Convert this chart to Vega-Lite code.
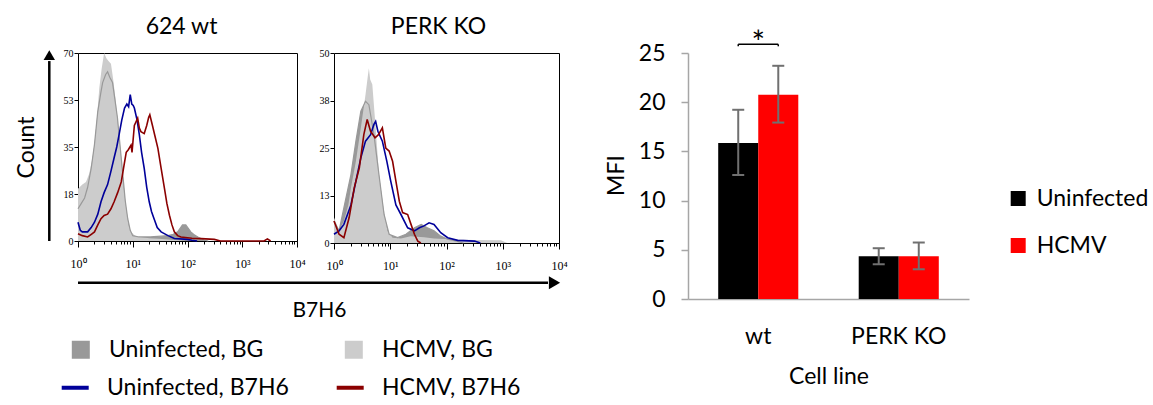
{
"$schema":"https://vega.github.io/schema/vega-lite/v6.json",
"padding":{"left":14,"top":15,"right":5,"bottom":5},
"bounds":"flush",
"spacing":37,
"resolve":{"scale":{"color":"independent","fill":"independent","stroke":"independent"}},
"config":{"view":{"stroke":null},"axis":{"grid":false,"labelColor":"black","titleColor":"black"},"font":"Lato","title":{"font":"Lato","fontWeight":"normal","color":"black"}},
"datasets":{
"hist":[
{"p":"wt","s":"HCMV, BG","x":1,"c":19.5},{"p":"wt","s":"HCMV, BG","x":1.2,"c":21},{"p":"wt","s":"HCMV, BG","x":1.4,"c":22},{"p":"wt","s":"HCMV, BG","x":1.6,"c":25},{"p":"wt","s":"HCMV, BG","x":1.8,"c":30},{"p":"wt","s":"HCMV, BG","x":2.0,"c":36},{"p":"wt","s":"HCMV, BG","x":2.2,"c":45},{"p":"wt","s":"HCMV, BG","x":2.45,"c":57},{"p":"wt","s":"HCMV, BG","x":2.7,"c":64},{"p":"wt","s":"HCMV, BG","x":3.0,"c":70},{"p":"wt","s":"HCMV, BG","x":3.3,"c":68},{"p":"wt","s":"HCMV, BG","x":3.6,"c":67},{"p":"wt","s":"HCMV, BG","x":4.0,"c":66},{"p":"wt","s":"HCMV, BG","x":4.4,"c":60},{"p":"wt","s":"HCMV, BG","x":4.9,"c":52},{"p":"wt","s":"HCMV, BG","x":5.5,"c":41},{"p":"wt","s":"HCMV, BG","x":6.2,"c":30},{"p":"wt","s":"HCMV, BG","x":6.8,"c":20},{"p":"wt","s":"HCMV, BG","x":7.6,"c":12},{"p":"wt","s":"HCMV, BG","x":8.4,"c":6},{"p":"wt","s":"HCMV, BG","x":9.3,"c":3.4},{"p":"wt","s":"HCMV, BG","x":11,"c":2},{"p":"wt","s":"HCMV, BG","x":14,"c":1.5},{"p":"wt","s":"HCMV, BG","x":20,"c":1},{"p":"wt","s":"HCMV, BG","x":30,"c":0.8},{"p":"wt","s":"HCMV, BG","x":50,"c":0.5},{"p":"wt","s":"HCMV, BG","x":70,"c":0.3},{"p":"wt","s":"HCMV, BG","x":90,"c":0},
{"p":"wt","s":"Uninfected, BG","x":1,"c":12},{"p":"wt","s":"Uninfected, BG","x":1.15,"c":14},{"p":"wt","s":"Uninfected, BG","x":1.32,"c":16},{"p":"wt","s":"Uninfected, BG","x":1.5,"c":20},{"p":"wt","s":"Uninfected, BG","x":1.74,"c":27},{"p":"wt","s":"Uninfected, BG","x":2.0,"c":36},{"p":"wt","s":"Uninfected, BG","x":2.29,"c":48},{"p":"wt","s":"Uninfected, BG","x":2.6,"c":55},{"p":"wt","s":"Uninfected, BG","x":2.82,"c":59},{"p":"wt","s":"Uninfected, BG","x":3.2,"c":62},{"p":"wt","s":"Uninfected, BG","x":3.47,"c":63},{"p":"wt","s":"Uninfected, BG","x":3.8,"c":61},{"p":"wt","s":"Uninfected, BG","x":4.27,"c":59},{"p":"wt","s":"Uninfected, BG","x":4.7,"c":53},{"p":"wt","s":"Uninfected, BG","x":5.25,"c":46},{"p":"wt","s":"Uninfected, BG","x":5.9,"c":35},{"p":"wt","s":"Uninfected, BG","x":6.6,"c":24.5},{"p":"wt","s":"Uninfected, BG","x":7.3,"c":15},{"p":"wt","s":"Uninfected, BG","x":8.1,"c":8.3},{"p":"wt","s":"Uninfected, BG","x":9,"c":4},{"p":"wt","s":"Uninfected, BG","x":10,"c":2},{"p":"wt","s":"Uninfected, BG","x":13,"c":1.5},{"p":"wt","s":"Uninfected, BG","x":21,"c":1.5},{"p":"wt","s":"Uninfected, BG","x":33,"c":1.8},{"p":"wt","s":"Uninfected, BG","x":44,"c":2},{"p":"wt","s":"Uninfected, BG","x":55,"c":2.5},{"p":"wt","s":"Uninfected, BG","x":66,"c":3.4},{"p":"wt","s":"Uninfected, BG","x":75,"c":5},{"p":"wt","s":"Uninfected, BG","x":81,"c":6},{"p":"wt","s":"Uninfected, BG","x":93,"c":6},{"p":"wt","s":"Uninfected, BG","x":105,"c":4.5},{"p":"wt","s":"Uninfected, BG","x":115,"c":3.4},{"p":"wt","s":"Uninfected, BG","x":135,"c":2.2},{"p":"wt","s":"Uninfected, BG","x":155,"c":1.5},{"p":"wt","s":"Uninfected, BG","x":180,"c":0.8},{"p":"wt","s":"Uninfected, BG","x":204,"c":0.3},{"p":"wt","s":"Uninfected, BG","x":240,"c":0},
{"p":"wt","s":"Uninfected, B7H6","x":1,"c":7},{"p":"wt","s":"Uninfected, B7H6","x":1.1,"c":4},{"p":"wt","s":"Uninfected, B7H6","x":1.2,"c":3.4},{"p":"wt","s":"Uninfected, B7H6","x":1.5,"c":3.4},{"p":"wt","s":"Uninfected, B7H6","x":1.74,"c":5},{"p":"wt","s":"Uninfected, B7H6","x":2.0,"c":7},{"p":"wt","s":"Uninfected, B7H6","x":2.3,"c":10},{"p":"wt","s":"Uninfected, B7H6","x":2.63,"c":14.6},{"p":"wt","s":"Uninfected, B7H6","x":3.0,"c":18},{"p":"wt","s":"Uninfected, B7H6","x":3.47,"c":21},{"p":"wt","s":"Uninfected, B7H6","x":4.0,"c":26},{"p":"wt","s":"Uninfected, B7H6","x":4.57,"c":31},{"p":"wt","s":"Uninfected, B7H6","x":5.1,"c":35},{"p":"wt","s":"Uninfected, B7H6","x":5.62,"c":39.5},{"p":"wt","s":"Uninfected, B7H6","x":6.3,"c":45},{"p":"wt","s":"Uninfected, B7H6","x":7.08,"c":49.5},{"p":"wt","s":"Uninfected, B7H6","x":7.8,"c":51},{"p":"wt","s":"Uninfected, B7H6","x":8.4,"c":50},{"p":"wt","s":"Uninfected, B7H6","x":9.0,"c":54.5},{"p":"wt","s":"Uninfected, B7H6","x":9.6,"c":51},{"p":"wt","s":"Uninfected, B7H6","x":10.2,"c":50.5},{"p":"wt","s":"Uninfected, B7H6","x":10.7,"c":49.5},{"p":"wt","s":"Uninfected, B7H6","x":12,"c":45},{"p":"wt","s":"Uninfected, B7H6","x":13.2,"c":39.5},{"p":"wt","s":"Uninfected, B7H6","x":14.5,"c":33},{"p":"wt","s":"Uninfected, B7H6","x":16.2,"c":27},{"p":"wt","s":"Uninfected, B7H6","x":18,"c":20},{"p":"wt","s":"Uninfected, B7H6","x":20,"c":14.6},{"p":"wt","s":"Uninfected, B7H6","x":22,"c":11},{"p":"wt","s":"Uninfected, B7H6","x":24.5,"c":8.3},{"p":"wt","s":"Uninfected, B7H6","x":28,"c":5},{"p":"wt","s":"Uninfected, B7H6","x":33,"c":3.4},{"p":"wt","s":"Uninfected, B7H6","x":44,"c":2},{"p":"wt","s":"Uninfected, B7H6","x":57.5,"c":0.9},{"p":"wt","s":"Uninfected, B7H6","x":100,"c":0.6},{"p":"wt","s":"Uninfected, B7H6","x":120,"c":0.3},{"p":"wt","s":"Uninfected, B7H6","x":150,"c":0},
{"p":"wt","s":"HCMV, B7H6","x":1,"c":2.7},{"p":"wt","s":"HCMV, B7H6","x":1.2,"c":2},{"p":"wt","s":"HCMV, B7H6","x":1.5,"c":1.5},{"p":"wt","s":"HCMV, B7H6","x":1.75,"c":2.5},{"p":"wt","s":"HCMV, B7H6","x":2.0,"c":3.4},{"p":"wt","s":"HCMV, B7H6","x":2.3,"c":6},{"p":"wt","s":"HCMV, B7H6","x":2.63,"c":8.3},{"p":"wt","s":"HCMV, B7H6","x":3.0,"c":9.5},{"p":"wt","s":"HCMV, B7H6","x":3.47,"c":10},{"p":"wt","s":"HCMV, B7H6","x":4.0,"c":12},{"p":"wt","s":"HCMV, B7H6","x":4.57,"c":14.6},{"p":"wt","s":"HCMV, B7H6","x":5.3,"c":18},{"p":"wt","s":"HCMV, B7H6","x":6.17,"c":22},{"p":"wt","s":"HCMV, B7H6","x":6.9,"c":28},{"p":"wt","s":"HCMV, B7H6","x":7.6,"c":33},{"p":"wt","s":"HCMV, B7H6","x":8.3,"c":34},{"p":"wt","s":"HCMV, B7H6","x":9.3,"c":35.7},{"p":"wt","s":"HCMV, B7H6","x":9.7,"c":33},{"p":"wt","s":"HCMV, B7H6","x":10.7,"c":43},{"p":"wt","s":"HCMV, B7H6","x":12.3,"c":45.7},{"p":"wt","s":"HCMV, B7H6","x":13.2,"c":42},{"p":"wt","s":"HCMV, B7H6","x":14.1,"c":40.7},{"p":"wt","s":"HCMV, B7H6","x":16.2,"c":40},{"p":"wt","s":"HCMV, B7H6","x":18,"c":43},{"p":"wt","s":"HCMV, B7H6","x":19.5,"c":46},{"p":"wt","s":"HCMV, B7H6","x":20.5,"c":47},{"p":"wt","s":"HCMV, B7H6","x":22.9,"c":43},{"p":"wt","s":"HCMV, B7H6","x":25.5,"c":39},{"p":"wt","s":"HCMV, B7H6","x":28.8,"c":34.5},{"p":"wt","s":"HCMV, B7H6","x":33,"c":27},{"p":"wt","s":"HCMV, B7H6","x":38,"c":19.5},{"p":"wt","s":"HCMV, B7H6","x":42,"c":14},{"p":"wt","s":"HCMV, B7H6","x":46.8,"c":9.6},{"p":"wt","s":"HCMV, B7H6","x":52,"c":6},{"p":"wt","s":"HCMV, B7H6","x":57.5,"c":3.4},{"p":"wt","s":"HCMV, B7H6","x":66,"c":2},{"p":"wt","s":"HCMV, B7H6","x":76,"c":1.5},{"p":"wt","s":"HCMV, B7H6","x":120,"c":1},{"p":"wt","s":"HCMV, B7H6","x":178,"c":0.9},{"p":"wt","s":"HCMV, B7H6","x":309,"c":0.6},{"p":"wt","s":"HCMV, B7H6","x":400,"c":0},{"p":"wt","s":"HCMV, B7H6","x":2500,"c":0},{"p":"wt","s":"HCMV, B7H6","x":2880,"c":0.8},{"p":"wt","s":"HCMV, B7H6","x":3300,"c":0},
{"p":"ko","s":"HCMV, BG","x":1,"c":6.7},{"p":"ko","s":"HCMV, BG","x":1.23,"c":3.2},{"p":"ko","s":"HCMV, BG","x":1.5,"c":5.8},{"p":"ko","s":"HCMV, BG","x":1.8,"c":10},{"p":"ko","s":"HCMV, BG","x":2.0,"c":14.5},{"p":"ko","s":"HCMV, BG","x":2.45,"c":21.5},{"p":"ko","s":"HCMV, BG","x":3.0,"c":30.3},{"p":"ko","s":"HCMV, BG","x":3.63,"c":39},{"p":"ko","s":"HCMV, BG","x":4.0,"c":44},{"p":"ko","s":"HCMV, BG","x":4.17,"c":46},{"p":"ko","s":"HCMV, BG","x":4.4,"c":43},{"p":"ko","s":"HCMV, BG","x":4.8,"c":41.7},{"p":"ko","s":"HCMV, BG","x":5.5,"c":30.3},{"p":"ko","s":"HCMV, BG","x":6.3,"c":18},{"p":"ko","s":"HCMV, BG","x":7.6,"c":9.3},{"p":"ko","s":"HCMV, BG","x":8.9,"c":3.2},{"p":"ko","s":"HCMV, BG","x":11,"c":1.4},{"p":"ko","s":"HCMV, BG","x":15.5,"c":1.2},{"p":"ko","s":"HCMV, BG","x":23,"c":1.8},{"p":"ko","s":"HCMV, BG","x":40,"c":1.5},{"p":"ko","s":"HCMV, BG","x":60,"c":1.2},{"p":"ko","s":"HCMV, BG","x":120,"c":1},{"p":"ko","s":"HCMV, BG","x":300,"c":0.8},{"p":"ko","s":"HCMV, BG","x":930,"c":0.7},{"p":"ko","s":"HCMV, BG","x":1200,"c":0},
{"p":"ko","s":"Uninfected, BG","x":1,"c":5.8},{"p":"ko","s":"Uninfected, BG","x":1.23,"c":3.2},{"p":"ko","s":"Uninfected, BG","x":1.5,"c":9.3},{"p":"ko","s":"Uninfected, BG","x":2.0,"c":18},{"p":"ko","s":"Uninfected, BG","x":2.45,"c":26.8},{"p":"ko","s":"Uninfected, BG","x":3.0,"c":34.7},{"p":"ko","s":"Uninfected, BG","x":3.63,"c":37.3},{"p":"ko","s":"Uninfected, BG","x":4.17,"c":36.4},{"p":"ko","s":"Uninfected, BG","x":5.13,"c":28.5},{"p":"ko","s":"Uninfected, BG","x":6.3,"c":18},{"p":"ko","s":"Uninfected, BG","x":7.76,"c":7.5},{"p":"ko","s":"Uninfected, BG","x":9.55,"c":2.3},{"p":"ko","s":"Uninfected, BG","x":13.5,"c":1.4},{"p":"ko","s":"Uninfected, BG","x":19,"c":2.3},{"p":"ko","s":"Uninfected, BG","x":27,"c":4},{"p":"ko","s":"Uninfected, BG","x":35.5,"c":4.9},{"p":"ko","s":"Uninfected, BG","x":45.7,"c":4},{"p":"ko","s":"Uninfected, BG","x":60,"c":3.2},{"p":"ko","s":"Uninfected, BG","x":79,"c":1.8},{"p":"ko","s":"Uninfected, BG","x":105,"c":1},{"p":"ko","s":"Uninfected, BG","x":150,"c":0.5},{"p":"ko","s":"Uninfected, BG","x":200,"c":0},
{"p":"ko","s":"Uninfected, B7H6","x":1,"c":2.3},{"p":"ko","s":"Uninfected, B7H6","x":1.23,"c":3.2},{"p":"ko","s":"Uninfected, B7H6","x":1.5,"c":4.9},{"p":"ko","s":"Uninfected, B7H6","x":2.0,"c":10},{"p":"ko","s":"Uninfected, B7H6","x":2.45,"c":16.3},{"p":"ko","s":"Uninfected, B7H6","x":3.0,"c":22.4},{"p":"ko","s":"Uninfected, B7H6","x":3.63,"c":26.8},{"p":"ko","s":"Uninfected, B7H6","x":4.47,"c":28.5},{"p":"ko","s":"Uninfected, B7H6","x":5.13,"c":31.2},{"p":"ko","s":"Uninfected, B7H6","x":5.5,"c":32},{"p":"ko","s":"Uninfected, B7H6","x":6.03,"c":29.4},{"p":"ko","s":"Uninfected, B7H6","x":7.24,"c":26.8},{"p":"ko","s":"Uninfected, B7H6","x":8.7,"c":21.5},{"p":"ko","s":"Uninfected, B7H6","x":10.2,"c":16.3},{"p":"ko","s":"Uninfected, B7H6","x":12.6,"c":10},{"p":"ko","s":"Uninfected, B7H6","x":15.5,"c":7.5},{"p":"ko","s":"Uninfected, B7H6","x":20.4,"c":4},{"p":"ko","s":"Uninfected, B7H6","x":27,"c":3.2},{"p":"ko","s":"Uninfected, B7H6","x":33,"c":4},{"p":"ko","s":"Uninfected, B7H6","x":39.8,"c":4.5},{"p":"ko","s":"Uninfected, B7H6","x":49,"c":5.3},{"p":"ko","s":"Uninfected, B7H6","x":60,"c":4.9},{"p":"ko","s":"Uninfected, B7H6","x":79,"c":2.7},{"p":"ko","s":"Uninfected, B7H6","x":105,"c":1.4},{"p":"ko","s":"Uninfected, B7H6","x":158,"c":0.7},{"p":"ko","s":"Uninfected, B7H6","x":316,"c":0.5},{"p":"ko","s":"Uninfected, B7H6","x":400,"c":0},
{"p":"ko","s":"HCMV, B7H6","x":1,"c":5.8},{"p":"ko","s":"HCMV, B7H6","x":1.23,"c":2.3},{"p":"ko","s":"HCMV, B7H6","x":1.5,"c":1.4},{"p":"ko","s":"HCMV, B7H6","x":1.86,"c":6.7},{"p":"ko","s":"HCMV, B7H6","x":2.29,"c":14.5},{"p":"ko","s":"HCMV, B7H6","x":2.82,"c":19.8},{"p":"ko","s":"HCMV, B7H6","x":3.39,"c":28.5},{"p":"ko","s":"HCMV, B7H6","x":3.89,"c":32.5},{"p":"ko","s":"HCMV, B7H6","x":4.47,"c":29.4},{"p":"ko","s":"HCMV, B7H6","x":5.37,"c":27.7},{"p":"ko","s":"HCMV, B7H6","x":6.17,"c":28.5},{"p":"ko","s":"HCMV, B7H6","x":7.24,"c":30.3},{"p":"ko","s":"HCMV, B7H6","x":8.32,"c":25},{"p":"ko","s":"HCMV, B7H6","x":9.55,"c":24.2},{"p":"ko","s":"HCMV, B7H6","x":11,"c":21.5},{"p":"ko","s":"HCMV, B7H6","x":12.6,"c":16.3},{"p":"ko","s":"HCMV, B7H6","x":14.5,"c":11},{"p":"ko","s":"HCMV, B7H6","x":16.6,"c":8},{"p":"ko","s":"HCMV, B7H6","x":20.4,"c":7.5},{"p":"ko","s":"HCMV, B7H6","x":23.4,"c":4.9},{"p":"ko","s":"HCMV, B7H6","x":26.9,"c":2.3},{"p":"ko","s":"HCMV, B7H6","x":30.9,"c":0.5},{"p":"ko","s":"HCMV, B7H6","x":35,"c":0}
],
"bars":[
{"cell":"wt","g":"Uninfected","mfi":15.86,"lo":12.6,"hi":19.23},
{"cell":"wt","g":"HCMV","mfi":20.75,"lo":17.93,"hi":23.7},
{"cell":"PERK KO","g":"Uninfected","mfi":4.35,"lo":3.53,"hi":5.16},
{"cell":"PERK KO","g":"HCMV","mfi":4.35,"lo":3.02,"hi":5.74}
]
},
"hconcat":[
{
"width":219,"height":188,
"view":{"stroke":"black","strokeWidth":1},
"title":{"text":"624 wt","fontSize":23,"offset":9,"dx":-6},
"data":{"name":"hist"},
"encoding":{
"x":{"field":"x","type":"quantitative","scale":{"type":"log","domain":[1,10000],"nice":false},"axis":{"values":[1,2,3,4,5,6,7,8,9,10,20,30,40,50,60,70,80,90,100,200,300,400,500,600,700,800,900,1000,2000,3000,4000,5000,6000,7000,8000,9000,10000],"labelExpr":"datum.value==1?'10⁰':datum.value==10?'10¹':datum.value==100?'10²':datum.value==1000?'10³':datum.value==10000?'10⁴':''","tickSize":{"condition":{"test":"indexof([1,10,100,1000,10000],datum.value)>=0","value":6},"value":3},"tickColor":"black","domainColor":"black","labelFont":"Liberation Sans Narrow","labelFontSize":12,"labelPadding":11,"labelOverlap":false,"labelFlush":false,"title":"B7H6","titleFont":"Lato","titleFontSize":21,"titleFontWeight":"normal","titleX":241,"titleY":75,"titleBaseline":"alphabetic","titleAlign":"center"}},
"y":{"field":"c","type":"quantitative","stack":null,"scale":{"domain":[0,70],"nice":false},"axis":{"values":[0,17.5,35,52.5,70],"format":".0f","tickSize":4,"tickColor":"black","domain":false,"labelFont":"Liberation Sans Narrow","labelFontSize":10,"labelPadding":1,"title":"Count","titleFont":"Lato","titleFontSize":23,"titleFontWeight":"normal","titleX":-45,"titleY":94,"titleAngle":270,"titleBaseline":"alphabetic","titleAlign":"center"}}
},
"layer":[
{"transform":[{"filter":"datum.p=='wt' && datum.s=='Uninfected, BG'"}],"mark":{"type":"area","opacity":1},"encoding":{"fill":{"field":"s","type":"nominal","scale":{"domain":["Uninfected, BG","HCMV, BG"],"range":["#999999","#cccccc"]},"legend":{"orient":"none","legendX":-8.7,"legendY":285,"direction":"horizontal","columns":2,"title":null,"symbolType":"square","symbolSize":324,"symbolStrokeWidth":0,"symbolOpacity":1,"labelFont":"Lato","labelFontSize":23,"labelColor":"black","labelLimit":400,"labelOffset":16.7,"columnPadding":78}}}},
{"transform":[{"filter":"datum.p=='wt' && datum.s=='HCMV, BG'"}],"mark":{"type":"area","opacity":1},"encoding":{"fill":{"field":"s","type":"nominal"}}},
{"transform":[{"filter":"datum.p=='wt' && datum.s=='Uninfected, BG'"}],"mark":{"type":"line","strokeWidth":1.2,"stroke":"#999999"}},
{"transform":[{"filter":"datum.p=='wt' && (datum.s=='Uninfected, B7H6' || datum.s=='HCMV, B7H6')"}],"mark":{"type":"line","strokeWidth":1.6},"encoding":{"stroke":{"field":"s","type":"nominal","scale":{"domain":["Uninfected, B7H6","HCMV, B7H6"],"range":["#00009a","#8b0000"]},"legend":{"orient":"none","legendX":-18.3,"legendY":319,"direction":"horizontal","columns":2,"title":null,"symbolType":"stroke","symbolSize":729,"symbolStrokeWidth":4,"symbolOpacity":1,"labelFont":"Lato","labelFontSize":23,"labelColor":"black","labelLimit":400,"labelOffset":16.3,"columnPadding":39}}}},
{"transform":[{"filter":"datum.p=='wt' && datum.s=='HCMV, BG' && datum.x==1"}],"mark":{"type":"rule","strokeWidth":2.5,"color":"black","clip":false},"encoding":{"x":{"datum":0.299,"type":"quantitative"},"y":{"datum":0,"type":"quantitative"},"y2":{"datum":67}}},
{"transform":[{"filter":"datum.p=='wt' && datum.s=='HCMV, BG' && datum.x==1"}],"mark":{"type":"point","shape":"triangle-up","filled":true,"color":"black","size":130,"opacity":1,"clip":false},"encoding":{"x":{"datum":0.299,"type":"quantitative"},"y":{"datum":69.2,"type":"quantitative"}}},
{"transform":[{"filter":"datum.p=='wt' && datum.s=='HCMV, BG' && datum.x==1"}],"mark":{"type":"rule","strokeWidth":2.5,"color":"black","clip":false},"encoding":{"x":{"datum":1,"type":"quantitative"},"x2":{"datum":384000000},"y":{"datum":-15.5,"type":"quantitative"}}},
{"transform":[{"filter":"datum.p=='wt' && datum.s=='HCMV, BG' && datum.x==1"}],"mark":{"type":"point","shape":"triangle-right","filled":true,"color":"black","size":169,"opacity":1,"clip":false},"encoding":{"x":{"datum":505000000,"type":"quantitative"},"y":{"datum":-15.5,"type":"quantitative"}}}
]
},
{
"width":225,"height":190,
"view":{"stroke":"black","strokeWidth":1},
"title":{"text":"PERK KO","fontSize":23,"offset":9,"dx":-8},
"data":{"name":"hist"},
"encoding":{
"x":{"field":"x","type":"quantitative","scale":{"type":"log","domain":[1,10000],"nice":false},"axis":{"values":[1,2,3,4,5,6,7,8,9,10,20,30,40,50,60,70,80,90,100,200,300,400,500,600,700,800,900,1000,2000,3000,4000,5000,6000,7000,8000,9000,10000],"labelExpr":"datum.value==1?'10⁰':datum.value==10?'10¹':datum.value==100?'10²':datum.value==1000?'10³':datum.value==10000?'10⁴':''","tickSize":{"condition":{"test":"indexof([1,10,100,1000,10000],datum.value)>=0","value":6},"value":3},"tickColor":"black","domainColor":"black","labelFont":"Liberation Sans Narrow","labelFontSize":12,"labelPadding":11,"labelOverlap":false,"labelFlush":false,"title":null}},
"y":{"field":"c","type":"quantitative","stack":null,"scale":{"domain":[0,50],"nice":false},"axis":{"values":[0,12.5,25,37.5,50],"format":".0f","tickSize":4,"tickColor":"black","domain":false,"labelFont":"Liberation Sans Narrow","labelFontSize":10,"labelPadding":1,"title":null}}
},
"layer":[
{"transform":[{"filter":"datum.p=='ko' && datum.s=='Uninfected, BG'"}],"mark":{"type":"area","opacity":1},"encoding":{"fill":{"field":"s","type":"nominal","scale":{"domain":["Uninfected, BG","HCMV, BG"],"range":["#999999","#cccccc"]},"legend":null}}},
{"transform":[{"filter":"datum.p=='ko' && datum.s=='HCMV, BG'"}],"mark":{"type":"area","opacity":1},"encoding":{"fill":{"field":"s","type":"nominal","legend":null}}},
{"transform":[{"filter":"datum.p=='ko' && datum.s=='Uninfected, BG'"}],"mark":{"type":"line","strokeWidth":1.2,"stroke":"#999999"}},
{"transform":[{"filter":"datum.p=='ko' && (datum.s=='Uninfected, B7H6' || datum.s=='HCMV, B7H6')"}],"mark":{"type":"line","strokeWidth":1.6},"encoding":{"stroke":{"field":"s","type":"nominal","scale":{"domain":["Uninfected, B7H6","HCMV, B7H6"],"range":["#00009a","#8b0000"]},"legend":null}}}
]
},
{"width":55,"height":10,"data":{"values":[]},"mark":"point"},
{
"width":281,"height":246,
"data":{"name":"bars"},
"encoding":{
"x":{"field":"cell","type":"nominal","sort":["wt","PERK KO"],"scale":{"paddingInner":0.43,"paddingOuter":0.215},"axis":{"title":"Cell line","ticks":false,"tickSize":0,"labelAngle":0,"labelPadding":26,"labelFont":"Lato","labelFontSize":23,"titleFont":"Lato","titleFontSize":23,"titleFontWeight":"normal","titlePadding":17,"domainColor":"#a6a6a6","domainWidth":1.5}}
},
"layer":[
{"mark":"bar","encoding":{"xOffset":{"field":"g","type":"nominal","sort":["Uninfected","HCMV"],"scale":{"domain":["Uninfected","HCMV"],"paddingInner":0,"paddingOuter":0}},"y":{"field":"mfi","type":"quantitative","scale":{"domain":[0,25],"nice":false},"axis":{"title":"MFI","values":[0,5,10,15,20,25],"tickSize":7,"tickColor":"#a6a6a6","tickWidth":1.5,"domainColor":"#a6a6a6","domainWidth":1.5,"labelFont":"Lato","labelFontSize":23,"labelPadding":16,"titleFont":"Lato","titleFontSize":23,"titleFontWeight":"normal","titleX":-65,"titleY":122,"titleAngle":270,"titleBaseline":"alphabetic","titleAlign":"center"}},"color":{"field":"g","type":"nominal","scale":{"domain":["Uninfected","HCMV"],"range":["#000000","#ff0000"]},"legend":{"orient":"none","legendX":318.7,"legendY":134,"title":null,"symbolType":"square","symbolSize":225,"symbolStrokeWidth":0,"labelFont":"Lato","labelFontSize":23,"labelColor":"black","labelOffset":7,"rowPadding":23}}}},
{"mark":{"type":"rule","color":"#707070","strokeWidth":2},"encoding":{"xOffset":{"field":"g","type":"nominal","sort":["Uninfected","HCMV"]},"y":{"field":"lo","type":"quantitative"},"y2":{"field":"hi"}}},
{"mark":{"type":"tick","color":"#707070","thickness":2,"size":12,"opacity":1},"encoding":{"xOffset":{"field":"g","type":"nominal","sort":["Uninfected","HCMV"]},"y":{"field":"lo","type":"quantitative"}}},
{"mark":{"type":"tick","color":"#707070","thickness":2,"size":12,"opacity":1},"encoding":{"xOffset":{"field":"g","type":"nominal","sort":["Uninfected","HCMV"]},"y":{"field":"hi","type":"quantitative"}}},
{"data":{"values":[{"cell":"wt"}]},"mark":{"type":"tick","color":"black","thickness":1.5,"size":40,"opacity":1},"encoding":{"y":{"datum":25.88}}},
{"data":{"values":[{"cell":"wt","g":"Uninfected"},{"cell":"wt","g":"HCMV"}]},"mark":{"type":"rule","color":"black","strokeWidth":1.5},"encoding":{"xOffset":{"field":"g","type":"nominal","sort":["Uninfected","HCMV"]},"y":{"datum":25.68},"y2":{"datum":25.88}}},
{"data":{"values":[{"cell":"wt"}]},"mark":{"type":"text","text":"*","font":"Lato","fontSize":32,"baseline":"alphabetic","color":"black"},"encoding":{"y":{"datum":24.9}}}
]
}
]
}
